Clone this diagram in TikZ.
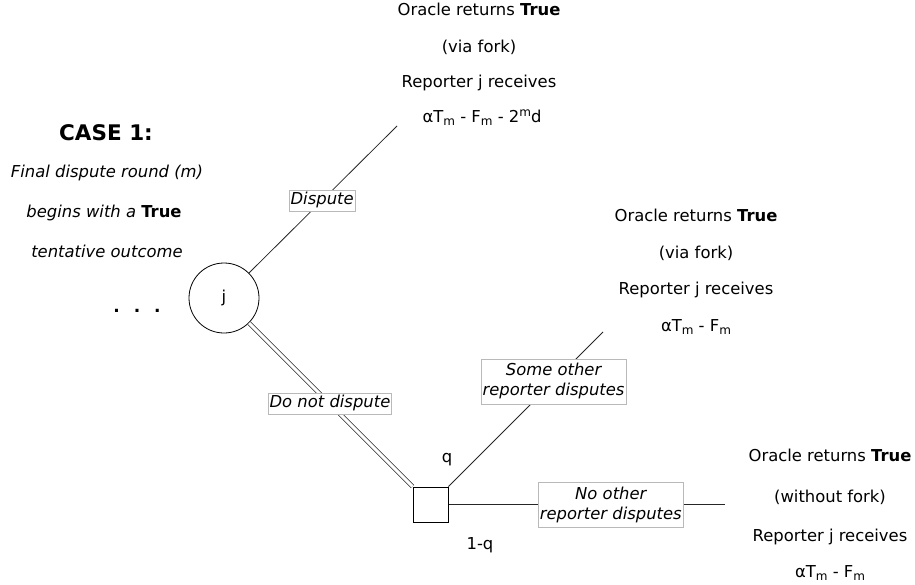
\documentclass[tikz,border=0pt]{standalone}
\usepackage{fontspec}
\usetikzlibrary{calc}
\setmainfont{DejaVu Sans}
\newcommand\lowm[1]{\raisebox{-3.5pt}{\fontsize{12}{12}\selectfont #1}}
\newcommand\highm[1]{\raisebox{6pt}{\fontsize{12}{12}\selectfont #1}}
\tikzset{
  txt/.style={font=\fontsize{16.4}{20}\selectfont, inner sep=0pt, anchor=base},
  lblbase/.style={draw=gray!55, fill=white, line width=0.7pt, font=\fontsize{16.4}{20}\selectfont\itshape,
    inner xsep=1.5pt, align=center},
  lbl/.style={lblbase, inner ysep=2.5pt, text height=12pt, text depth=4pt},
  lbltwo/.style={lblbase, inner ysep=4.5pt},
  edge/.style={line width=0.8pt, draw=black!85},
}
\begin{document}
\begin{tikzpicture}[x=1pt,y=-1pt]
\useasboundingbox (0,0) rectangle (915,584);
% left caption
\node[txt, font=\fontsize{21.5}{24}\selectfont\bfseries] (case) at (106,140) {CASE 1:};
\node[txt, font=\fontsize{16.4}{20}\selectfont\itshape] (l1) at (107,177) {Final dispute round (m)};
\node[txt, font=\fontsize{16.4}{20}\selectfont\itshape] (l2) at (104,217) {begins with a \upshape\bfseries True};
\node[txt, font=\fontsize{16.4}{20}\selectfont\itshape] (l3) at (107,257) {tentative outcome};
% dots
\node[txt, font=\fontsize{17}{20}\selectfont\bfseries] (dots) at (137,312) {.\hspace{14pt}.\hspace{14pt}.};
% decision nodes
\node[draw, circle, minimum size=70pt, inner sep=0pt, line width=0.8pt, font=\fontsize{16.4}{20}\selectfont] (j) at (224,298) {j};
\node[draw, rectangle, minimum size=35pt, inner sep=0pt, line width=1pt] (sq) at (430.5,504.5) {};
\coordinate (topend) at (397,126);
\coordinate (midend) at (603,332);
\coordinate (botend) at (725,504.5);
% connectors
\draw[edge] (j.north east) -- (topend) node[lbl, pos=0.494] (ldispute) {Dispute};
\draw[line width=0.7pt, double, double distance=3pt, draw=black!85] (j.south east) -- (sq.north west);
\node[lbl] (lnodisp) at ($(j.south east)!0.495!(sq.north west)$) {Do not dispute};
\draw[edge] (sq.north east) -- (midend) node[lbltwo, pos=0.68] (lsome) {Some other\\reporter disputes};
\draw[edge] (sq.east) -- (botend) node[lbltwo, pos=0.587] (lnoother) {No other\\reporter disputes};
% probabilities
\node[font=\fontsize{16.4}{20}\selectfont, inner sep=0pt] (q) at (447,460) {q};
\node[font=\fontsize{16.4}{20}\selectfont, inner sep=0pt] (oneq) at (480,545) {1-q};
% top outcome
\node[txt] (t1) at (479,15) {Oracle returns \textbf{True}};
\node[txt] (t2) at (479,52) {(via fork)};
\node[txt] (t3) at (479,87) {Reporter j receives};
\node[txt] (t4) at (482,122) {αT\lowm{m} - F\lowm{m} - 2\highm{m}d};
% middle outcome
\node[txt] (m1) at (696,221) {Oracle returns \textbf{True}};
\node[txt] (m2) at (696,258) {(via fork)};
\node[txt] (m3) at (696,294) {Reporter j receives};
\node[txt] (m4) at (696,331) {αT\lowm{m} - F\lowm{m}};
% bottom outcome
\node[txt] (b1) at (830,461) {Oracle returns \textbf{True}};
\node[txt] (b2) at (830,502) {(without fork)};
\node[txt] (b3) at (830,541) {Reporter j receives};
\node[txt] (b4) at (830,577) {αT\lowm{m} - F\lowm{m}};
\end{tikzpicture}
\end{document}
